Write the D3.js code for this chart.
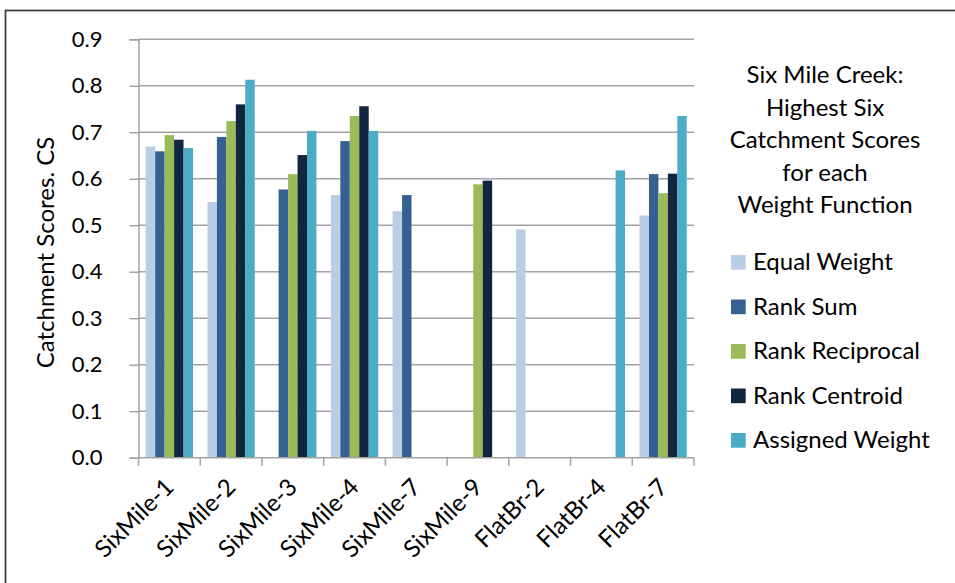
<!DOCTYPE html>
<html>
<head>
<meta charset="utf-8">
<script src="https://cdn.jsdelivr.net/npm/d3@7"></script>
<style>
  html, body { margin: 0; padding: 0; background: #fff; }
  svg { display: block; font-family: Lato, "Open Sans", sans-serif; }
</style>
</head>
<body>
<svg id="chart" width="955" height="583"></svg>
<script>
// Catchments along Six Mile Creek and Flat Brook
const categories = ["SixMile-1", "SixMile-2", "SixMile-3", "SixMile-4", "SixMile-7",
                    "SixMile-9", "FlatBr-2", "FlatBr-4", "FlatBr-7"];

// Weight functions (series) and their colours
const seriesNames = ["Equal Weight", "Rank Sum", "Rank Reciprocal", "Rank Centroid", "Assigned Weight"];
const seriesColors = ["#B9CDE5", "#366092", "#9BBB59", "#12263F", "#4BACC6"];

// Catchment scores per weight function (null = not among the highest six)
const equalWeight     = [0.669, 0.550, null,  0.565, 0.530, null,  0.491, null,  0.521];
const rankSum         = [0.659, 0.690, 0.577, 0.681, 0.565, null,  null,  null,  0.610];
const rankReciprocal  = [0.694, 0.724, 0.610, 0.735, null,  0.588, null,  null,  0.569];
const rankCentroid    = [0.684, 0.760, 0.651, 0.756, null,  0.596, null,  null,  0.611];
const assignedWeight  = [0.666, 0.813, 0.703, 0.703, null,  null,  null,  0.618, 0.735];

const yTicks = [0, 0.1, 0.2, 0.3, 0.4, 0.5, 0.6, 0.7, 0.8, 0.9];

const seriesValues = [equalWeight, rankSum, rankReciprocal, rankCentroid, assignedWeight];

const svg = d3.select("#chart");
const fontSize = "24px";

// Outer chart frame
svg.append("rect")
  .attr("x", 5.5).attr("y", 10.5)
  .attr("width", 1000).attr("height", 1000)
  .attr("fill", "none").attr("stroke", "#404040").attr("stroke-width", 1.8);

const plot = { left: 138.5, right: 694, top: 39.3, bottom: 457.7 };

const x0 = d3.scaleBand().domain(categories).range([plot.left, plot.right]).padding(0);
const x1 = d3.scaleBand().domain(seriesNames)
  .range([x0.bandwidth() * 0.117, x0.bandwidth() * 0.883]).padding(0);
const y = d3.scaleLinear().domain([0, 0.9]).range([plot.bottom, plot.top]);

const gridColor = "#A3A3A3";

// Horizontal gridlines
svg.append("g")
  .selectAll("line")
  .data(yTicks.slice(1))
  .join("line")
  .attr("x1", plot.left).attr("x2", plot.right)
  .attr("y1", d => y(d)).attr("y2", d => y(d))
  .attr("stroke", gridColor).attr("stroke-width", 1.5);

// Bars
const rows = [];
categories.forEach((c, i) => {
  seriesNames.forEach((s, j) => {
    const v = seriesValues[j][i];
    if (v != null) rows.push({ c, s, v, color: seriesColors[j] });
  });
});

svg.append("g")
  .selectAll("rect")
  .data(rows)
  .join("rect")
  .attr("x", d => x0(d.c) + x1(d.s))
  .attr("y", d => y(d.v))
  .attr("width", x1.bandwidth())
  .attr("height", d => y(0) - y(d.v))
  .attr("fill", d => d.color);

// Y axis
const yAxis = svg.append("g")
  .attr("transform", `translate(${plot.left},0)`)
  .call(d3.axisLeft(y).tickValues(yTicks).tickFormat(d3.format(".1f"))
    .tickSize(9).tickPadding(27));
yAxis.select(".domain").attr("stroke", gridColor).attr("stroke-width", 1.5);
yAxis.selectAll(".tick line").attr("stroke", gridColor).attr("stroke-width", 1.5);
yAxis.selectAll(".tick text")
  .attr("fill", "#000").style("font-size", "22px").style("font-family", "Lato, sans-serif");

// X axis: tick marks on category boundaries
const xAxisG = svg.append("g");
xAxisG.append("line")
  .attr("x1", plot.left).attr("x2", plot.right)
  .attr("y1", plot.bottom).attr("y2", plot.bottom)
  .attr("stroke", gridColor).attr("stroke-width", 1.5);
const boundaries = categories.map(c => x0(c)).concat([x0(categories[categories.length - 1]) + x0.bandwidth()]);
xAxisG.selectAll("line.tk")
  .data(boundaries)
  .join("line")
  .attr("class", "tk")
  .attr("x1", d => d).attr("x2", d => d)
  .attr("y1", plot.bottom).attr("y2", plot.bottom + 8)
  .attr("stroke", gridColor).attr("stroke-width", 1.5);

xAxisG.selectAll("text")
  .data(categories)
  .join("text")
  .attr("transform", d => `translate(${x0(d) + x0.bandwidth() / 2 - 6},${plot.bottom + 19}) rotate(-45)`)
  .attr("text-anchor", "end")
  .attr("dy", "0.7em")
  .style("font-size", fontSize)
  .attr("fill", "#000")
  .text(d => d);

// Y axis title
svg.append("text")
  .attr("transform", `translate(54,${(plot.top + plot.bottom) / 2 + 4}) rotate(-90)`)
  .attr("text-anchor", "middle")
  .style("font-size", fontSize)
  .attr("fill", "#000")
  .text("Catchment Scores. CS");

// Legend title
const titleLines = ["Six Mile Creek:", "Highest Six", "Catchment Scores", "for each", "Weight Function"];
svg.append("g")
  .selectAll("text")
  .data(titleLines)
  .join("text")
  .attr("x", 825)
  .attr("y", (d, i) => 83 + i * 32.5)
  .attr("text-anchor", "middle")
  .style("font-size", fontSize)
  .attr("fill", "#000")
  .text(d => d);

// Legend entries
const legend = svg.append("g")
  .selectAll("g")
  .data(seriesNames)
  .join("g")
  .attr("transform", (d, i) => `translate(731,${255 + i * 44.5})`);
legend.append("rect")
  .attr("width", 14.7).attr("height", 14.7)
  .attr("fill", (d, i) => seriesColors[i]);
legend.append("text")
  .attr("x", 22).attr("y", 15)
  .style("font-size", fontSize)
  .attr("fill", "#000")
  .text(d => d);
</script>
</body>
</html>
